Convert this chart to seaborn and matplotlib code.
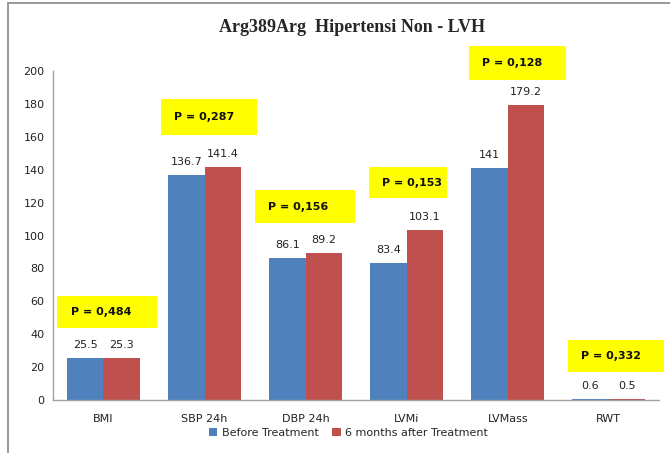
import matplotlib
matplotlib.use("Agg")
import matplotlib.pyplot as plt
import seaborn as sns
import pandas as pd
from matplotlib.patches import Rectangle

categories = ["BMI", "SBP 24h", "DBP 24h", "LVMi", "LVMass", "RWT"]
before = [25.5, 136.7, 86.1, 83.4, 141, 0.6]
after = [25.3, 141.4, 89.2, 103.1, 179.2, 0.5]
p_values = ["P = 0,484", "P = 0,287", "P = 0,156", "P = 0,153", "P = 0,128", "P = 0,332"]
series = ["Before Treatment", "6 months after Treatment"]
value_labels_before = ["25.5", "136.7", "86.1", "83.4", "141", "0.6"]
value_labels_after = ["25.3", "141.4", "89.2", "103.1", "179.2", "0.5"]

# box layout (x offset from category, y bottom, y top) in data units
box_layout = [(-0.455, 0.525, 43.8, 63.2), (-0.43, 0.52, 161, 183), (-0.50, 0.49, 107.6, 127.7),
              (-0.37, 0.40, 122.8, 141.6), (-0.38, 0.58, 194.5, 215), (-0.40, 0.55, 17, 36.5)]

df = pd.DataFrame({
    "cat": categories * 2,
    "val": before + after,
    "grp": [series[0]] * len(categories) + [series[1]] * len(categories),
})

sns.set_style("white")
fig = plt.figure(figsize=(6.70, 4.53), dpi=100)
ax = fig.add_axes([0.079, 0.117, 0.905, 0.726])
sns.barplot(data=df, x="cat", y="val", hue="grp", order=categories, hue_order=series,
            palette=["#4F81BD", "#C0504D"], width=0.72, saturation=1, ax=ax, legend=True,
            linewidth=0, edgecolor="none")

ax.set_ylim(0, 200)
ax.set_xlim(-0.5, 5.5)
ax.set_yticks(range(0, 201, 20))
ax.set_xlabel("")
ax.set_ylabel("")
for s in ["top", "right"]:
    ax.spines[s].set_visible(False)
for s in ["left", "bottom"]:
    ax.spines[s].set_color("#A0A0A0")
    ax.spines[s].set_linewidth(1)
ax.tick_params(axis="both", labelsize=8, colors="#222222", length=0, pad=6)
ax.tick_params(axis="x", pad=10)

for cont, labs in zip(ax.containers, [value_labels_before, value_labels_after]):
    ax.bar_label(cont, labels=labs, padding=6, fontsize=8, color="#222222")

for i, (p, (x0, x1, y0, y1)) in enumerate(zip(p_values, box_layout)):
    ax.add_patch(Rectangle((i + x0, y0), x1 - x0, y1 - y0, facecolor="#FFFF00",
                           edgecolor="none", clip_on=False, zorder=5))
    ax.text(i + x0 + 0.13, (y0 + y1) / 2, p, fontsize=8, fontweight="bold",
            va="center", ha="left", zorder=6, color="#111111")

ax.get_legend().remove()
handles, labels = ax.get_legend_handles_labels()
fig.legend(handles, labels, loc="center", bbox_to_anchor=(0.52, 0.045), ncol=2,
           frameon=False, fontsize=8, handlelength=0.8, handleheight=0.8,
           handletextpad=0.4, columnspacing=1.2)

fig.text(0.525, 0.94, "Arg389Arg  Hipertensi Non - LVH", ha="center", va="center",
         fontsize=13, fontweight="bold", family="Liberation Serif")

fig.patches.append(Rectangle((0.012, -0.01), 1.1, 1.003, transform=fig.transFigure,
                             facecolor="none", edgecolor="#888888", linewidth=1.2))

fig.savefig("out.png", dpi=100)
